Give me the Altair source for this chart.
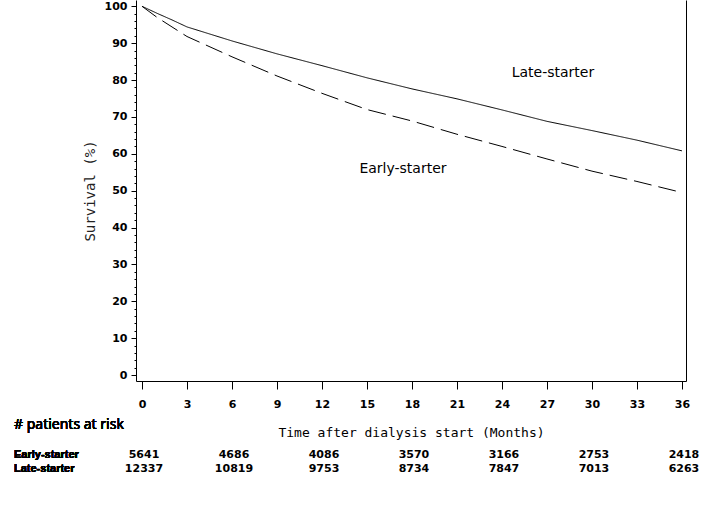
import altair as alt
import pandas as pd

# ---- data ----
months = [0, 1, 2, 3, 6, 9, 12, 15, 18, 21, 24, 27, 30, 33, 36]
late_surv = [100, 98.1, 96.3, 94.4, 90.6, 87.1, 83.9, 80.6, 77.6, 74.9, 71.9, 68.8, 66.3, 63.7, 60.8]
early_surv = [100, 97.0, 94.4, 91.8, 86.3, 81.1, 76.4, 72.0, 68.9, 65.3, 62.0, 58.6, 55.3, 52.5, 49.5]

label_text = ["Late-starter", "Early-starter"]
label_month = [27.4, 17.4]
label_surv = [81.9, 55.9]

risk_months = [0, 6, 12, 18, 24, 30, 36]
early_risk = [5641, 4686, 4086, 3570, 3166, 2753, 2418]
late_risk = [12337, 10819, 9753, 8734, 7847, 7013, 6263]

x_ticks = list(range(0, 37, 3))
y_ticks = list(range(0, 101, 2))

# ---- tables ----
curves = pd.DataFrame({
    "month": months * 2,
    "surv": late_surv + early_surv,
    "group": ["Late-starter"] * len(months) + ["Early-starter"] * len(months),
})
labels = pd.DataFrame({"month": label_month, "surv": label_surv, "text": label_text})
risk = pd.DataFrame({"month": risk_months, "early": early_risk, "late": late_risk})

x_scale = alt.Scale(domain=[-0.4, 36.27], nice=False, zero=False)
y_scale = alt.Scale(domain=[-1.6, 101.7], nice=False, zero=False)

x_axis = alt.Axis(
    values=x_ticks, tickSize=8, tickColor="black", domainColor="black",
    labelFont="DejaVu Sans", labelFontWeight="bold", labelFontSize=11,
    labelColor="black", labelPadding=9, labelFlush=False, grid=False,
    title="Time after dialysis start (Months)", titleFont="DejaVu Sans Mono",
    titleFontSize=13, titleFontWeight="normal", titleColor="black", titlePadding=17,
)
y_axis = alt.Axis(
    values=y_ticks,
    tickSize={"condition": {"test": "datum.value % 10 === 0", "value": 5}, "value": 2},
    tickColor="black", domainColor="black",
    labelExpr="datum.value % 10 === 0 ? datum.label : ''",
    labelOverlap=False,
    labelFont="DejaVu Sans", labelFontWeight="bold", labelFontSize=11,
    labelColor="black", labelPadding=4, labelFlush=False, grid=False,
    title="Survival (%)", titleFont="DejaVu Sans Mono", titleFontSize=14,
    titleFontWeight="normal", titleColor="#222222", titlePadding=7,
)

X = alt.X("month:Q", scale=x_scale, axis=x_axis)

lines = alt.Chart(curves).mark_line(color="black", strokeWidth=1).encode(
    x=X,
    y=alt.Y("surv:Q", scale=y_scale, axis=y_axis),
    strokeDash=alt.StrokeDash(
        "group:N",
        scale=alt.Scale(domain=["Late-starter", "Early-starter"], range=[[1, 0], [18, 7]]),
        legend=None,
    ),
    detail="group:N",
)

frame = alt.Chart(curves).mark_point(opacity=0).encode(
    x=X,
    y=alt.Y("surv:Q", scale=y_scale, axis=alt.Axis(
        orient="right", ticks=False, labels=False, title=None, grid=False,
        domainColor="black")),
)

ann = alt.Chart(labels).mark_text(
    font="DejaVu Sans", fontSize=14, color="black", align="center", baseline="middle"
).encode(
    x=X,
    y=alt.Y("surv:Q", scale=y_scale, axis=None),
    text="text:N",
)

risk_title = alt.Chart(risk).mark_text(
    font="Noto Sans", fontSize=14, fontWeight="normal", color="black",
    align="left", baseline="middle"
).encode(x=alt.value(-122), y=alt.value(425), text=alt.value("# patients at risk"))

row_early = alt.Chart(risk).mark_text(
    font="Liberation Sans", fontWeight="bold", fontSize=11, color="black",
    align="left", baseline="middle"
).encode(x=alt.value(-122), y=alt.value(455), text=alt.value("Early-starter"))

row_late = alt.Chart(risk).mark_text(
    font="Liberation Sans", fontWeight="bold", fontSize=11, color="black",
    align="left", baseline="middle"
).encode(x=alt.value(-122), y=alt.value(469), text=alt.value("Late-starter"))

num_early = alt.Chart(risk).mark_text(
    font="DejaVu Sans", fontWeight="bold", fontSize=11, color="black",
    align="center", baseline="middle", dx=2
).encode(x=X, y=alt.value(455), text="early:Q")

num_late = alt.Chart(risk).mark_text(
    font="DejaVu Sans", fontWeight="bold", fontSize=11, color="black",
    align="center", baseline="middle", dx=2
).encode(x=X, y=alt.value(469), text="late:Q")

chart = alt.layer(
    lines, frame, ann, risk_title, row_early, row_late, num_early, num_late
).resolve_axis(y="independent").properties(
    width=550, height=381,
    autosize=alt.AutoSizeParams(type="none"),
    padding={"left": 136, "top": 0, "right": 18, "bottom": 124},
    background="white",
).configure_view(stroke=None)

chart.save("out.html", embed_options={"renderer": "svg", "actions": False})
